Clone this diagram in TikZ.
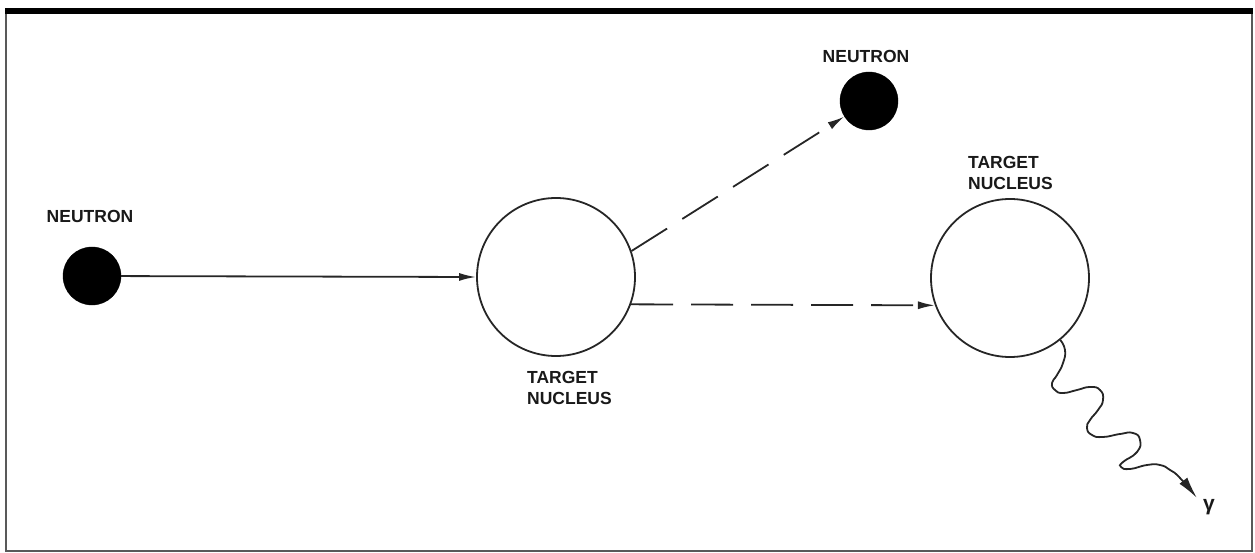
\documentclass[tikz,border=0pt]{standalone}
\usepackage{fontspec}
\setmainfont{Liberation Sans}
\usetikzlibrary{arrows.meta}
\tikzset{
  ln/.style={line width=1.8pt, draw=black!85},
  neutron/.style={circle, fill=black, draw=black, minimum size=58pt, inner sep=0pt},
  nucleus/.style={circle, ln, fill=white, minimum size=158pt, inner sep=0pt},
  lbl/.style={font=\bfseries\fontsize{17.5}{21}\selectfont, text=black!90, inner sep=0pt, align=left},
  tip/.style={-{Latex[length=17pt,width=8pt]}},
  dsh/.style={dash pattern=on 42pt off 18pt}
}
\begin{document}
\begin{tikzpicture}[x=1pt,y=-1pt]
\useasboundingbox (0,0) rectangle (1255,553);
% frame
\fill[black] (5,8) rectangle (1253,14);
\draw[line width=2pt, black!65] (6,14) -- (6,551) -- (1252,551) -- (1252,14);
% nodes
\node[neutron] (n1) at (92,276) {};
\node[neutron] (n2) at (869,101) {};
\node[nucleus] (t1) at (556,277) {};
\node[nucleus] (t2) at (1010,278) {};
% labels
\node[lbl] (l1) at (90,216) {NEUTRON};
\node[lbl] (l2) at (866,56) {NEUTRON};
\node[lbl, anchor=west] (l3) at (527,388) {TARGET\\NUCLEUS};
\node[lbl, anchor=west] (l4) at (968,173) {TARGET\\NUCLEUS};
\node[font=\bfseries\fontsize{21}{24}\selectfont, inner sep=0pt, text=black!90] (g) at (1209,507) {γ};
% connectors
\draw[ln, tip] (n1) -- (t1.west);
\draw[ln, dsh, tip] (t1.19) -- (n2);
\draw[ln, dsh, tip] (t1.-20.7) -- (t2.-160.3);
\coordinate (gend) at (1197,498);
\draw[ln, -{Latex[length=22pt,width=10pt]}] plot[smooth, tension=0.9] coordinates {
 (t2.-51) (1065,350) (1063,363) (1057,375) (1052,383) (1055,390) (1063,393)
 (1077,390) (1090,387) (1100,390) (1103,400) (1098,410) (1090,420) (1087,428)
 (1092,435) (1103,437) (1120,434) (1133,433) (1140,440) (1137,452) (1123,462)
 (1121,467) (1130,469) (1147,465) (1160,465) (1170,470) (1180,478) (gend)};
\end{tikzpicture}
\end{document}
